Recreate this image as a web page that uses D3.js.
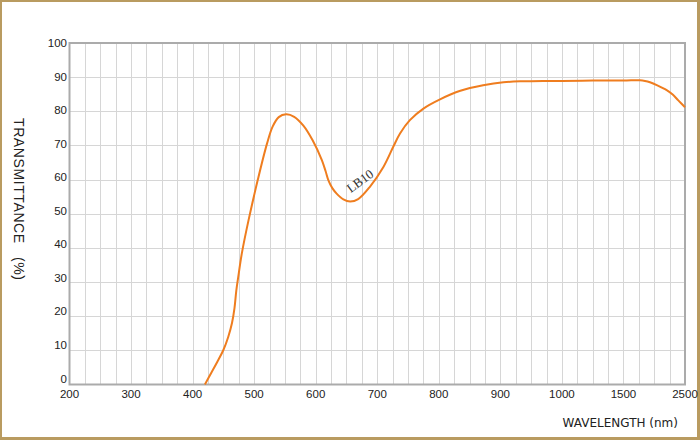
<!DOCTYPE html>
<html>
<head>
<meta charset="utf-8">
<script src="https://cdn.jsdelivr.net/npm/d3@7"></script>
<style>
  html, body { margin: 0; padding: 0; background: #fff; }
  svg { display: block; }
</style>
</head>
<body>
<script>
// ---- data ----
const xTickValues = [200, 300, 400, 500, 600, 700, 800, 900, 1000, 1500, 2500];
const yTickValues = [0, 10, 20, 30, 40, 50, 60, 70, 80, 90, 100];
const seriesName = "LB10";
const wavelength = [420, 430, 440, 450, 458, 464, 468, 471, 474, 480, 491, 506, 521, 530, 540, 552, 565, 580, 595, 610, 616, 621, 627, 634, 645, 656, 669, 688, 710, 726, 737, 753, 775, 802, 835, 872, 905, 937, 970, 1000, 1250, 1500, 1700, 1768, 1850, 1931, 2050, 2202, 2300, 2391, 2500];
const transmittance = [0, 3.3, 6.6, 10.1, 14.0, 18.0, 22.3, 27.5, 31.3, 38.4, 48.2, 60, 70.6, 75.5, 78.3, 79.1, 78.4, 75.8, 71.5, 65.7, 62.5, 59.6, 57.5, 55.9, 54.2, 53.6, 54.3, 57.9, 63.7, 69.6, 73.5, 77.4, 80.8, 83.5, 86, 87.6, 88.5, 88.8, 88.9, 88.9, 89, 89, 89.1, 89.1, 88.9, 88.5, 87.6, 86.2, 84.9, 83.2, 81.2];
const xTitle = "WAVELENGTH (nm)";
const yTitleMain = "TRANSMITTANCE";
const yTitleUnit = "(%)";

// ---- layout ----
const W = 700, H = 440;
const pLeft = 69.5, pRight = 685, pTop = 43, pBottom = 384.5;

const svg = d3.select("body").append("svg").attr("width", W).attr("height", H);

// frame
svg.append("rect").attr("width", W).attr("height", H).attr("fill", "#b99b60");
svg.append("rect").attr("x", 2).attr("y", 2).attr("width", W - 5).attr("height", H - 5).attr("fill", "#ffffff");

// scales: tick values equally spaced (piecewise linear)
const xRange = xTickValues.map((d, i) => pLeft + (pRight - pLeft) * i / (xTickValues.length - 1));
const x = d3.scaleLinear().domain(xTickValues).range(xRange);
const y = d3.scaleLinear().domain([0, 100]).range([pBottom, pTop]);

// minor vertical grid (4 subdivisions per tick interval)
const minor = [];
for (let i = 0; i < xTickValues.length - 1; i++) {
  const a = xTickValues[i], b = xTickValues[i + 1];
  if (i > 0) minor.push(a);
  for (let k = 1; k < 4; k++) minor.push(a + (b - a) * k / 4);
}
const grid = svg.append("g").attr("stroke", "#d6d6d6").attr("stroke-width", 1).attr("shape-rendering", "crispEdges");
grid.selectAll("line.v").data(minor).join("line").attr("class", "v")
  .attr("x1", d => Math.round(x(d)) + 0.5).attr("x2", d => Math.round(x(d)) + 0.5)
  .attr("y1", pTop).attr("y2", pBottom);
grid.selectAll("line.h").data(yTickValues.filter(v => v > 0 && v < 100)).join("line").attr("class", "h")
  .attr("x1", pLeft).attr("x2", pRight)
  .attr("y1", d => Math.round(y(d)) + 0.5).attr("y2", d => Math.round(y(d)) + 0.5);

// plot border
svg.append("rect").attr("x", pLeft).attr("y", pTop)
  .attr("width", pRight - pLeft).attr("height", pBottom - pTop)
  .attr("fill", "none").attr("stroke", "#ababab").attr("stroke-width", 2);

// curve
const pts = wavelength.map((w, i) => [w, transmittance[i]]);
const line = d3.line().x(d => x(d[0])).y(d => y(d[1])).curve(d3.curveCatmullRom.alpha(0.5));
svg.append("path").datum(pts).attr("d", line)
  .attr("fill", "none").attr("stroke", "#ef7d1f").attr("stroke-width", 2).attr("stroke-linejoin", "round");

// y tick labels
svg.append("g").selectAll("text").data(yTickValues).join("text")
  .attr("x", 67).attr("y", d => y(d) - 0.06 * (100 - d) + 4)
  .attr("text-anchor", "end")
  .attr("font-family", "Liberation Sans, Arial, sans-serif").attr("font-size", 11.5)
  .attr("fill", "#222").text(d => d);

// x tick labels
svg.append("g").selectAll("text").data(xTickValues).join("text")
  .attr("x", d => x(d)).attr("y", 397.5)
  .attr("text-anchor", "middle")
  .attr("font-family", "Liberation Sans, Arial, sans-serif").attr("font-size", 11.5)
  .attr("fill", "#222").text(d => d);

// x title
svg.append("text").attr("x", 678).attr("y", 427).attr("text-anchor", "end")
  .attr("font-family", "DejaVu Sans, Verdana, sans-serif").attr("font-size", 12)
  .attr("fill", "#222").text(xTitle);

// y title (rotated, reads top to bottom)
const yt = svg.append("text").attr("transform", "translate(14,118) rotate(90)")
  .attr("font-family", "Liberation Sans, Arial, sans-serif").attr("font-size", 14)
  .attr("letter-spacing", 0.6)
  .attr("fill", "#222");
yt.append("tspan").attr("x", 0).text(yTitleMain);
yt.append("tspan").attr("x", 139).text(yTitleUnit);

// series label
svg.append("text").attr("transform", "translate(360,181) rotate(-36)")
  .attr("text-anchor", "middle").attr("dominant-baseline", "central")
  .attr("font-family", "Liberation Serif, Times New Roman, serif").attr("font-size", 13)
  .attr("fill", "#333").text(seriesName);
</script>
</body>
</html>
